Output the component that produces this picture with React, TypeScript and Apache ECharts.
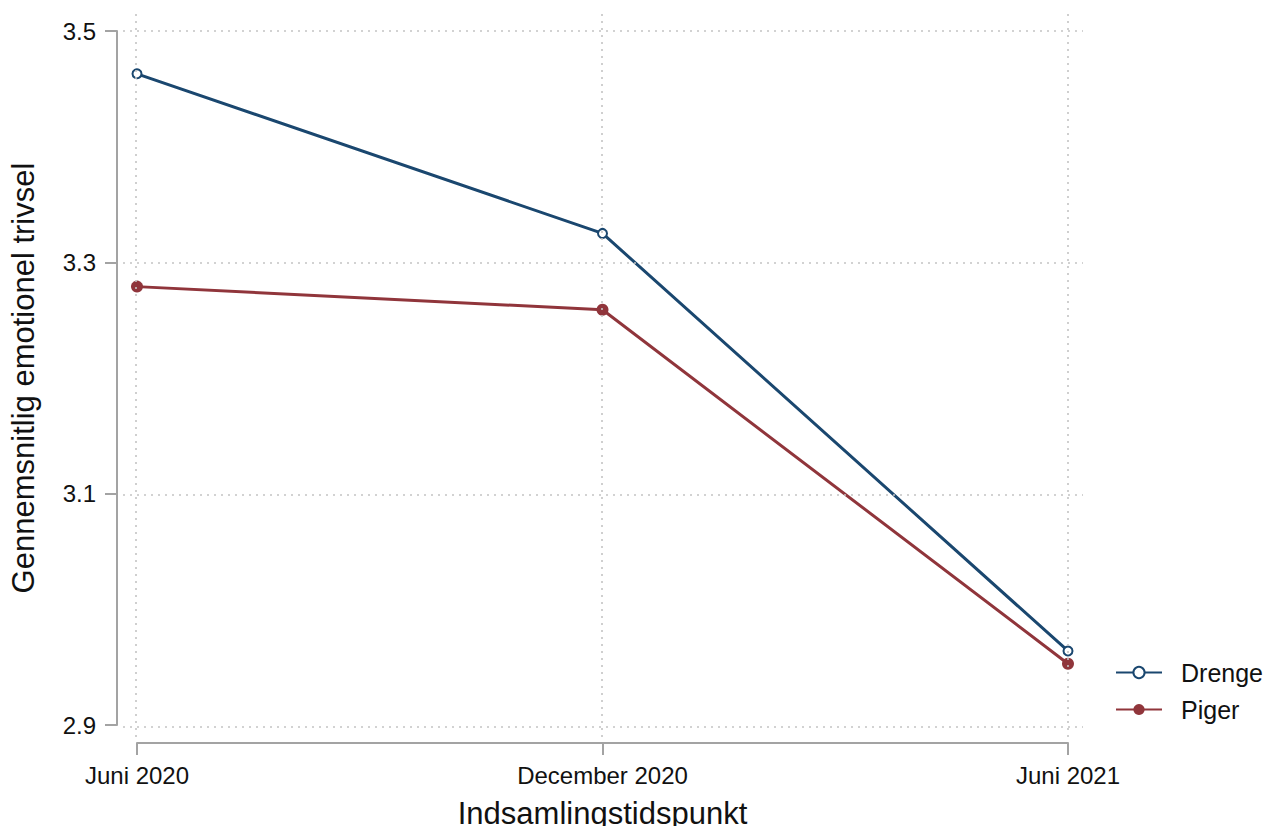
import React, { useEffect, useRef } from "react";
import * as echarts from "echarts";

const categories = ["Juni 2020", "December 2020", "Juni 2021"];
const drenge = [3.463, 3.325, 2.964];
const piger = [3.279, 3.259, 2.953];
const yTicks = [2.9, 3.1, 3.3, 3.5];
const yBase = 2.9;
const yTop = 3.5;
const yStep = 0.2;

export default function App() {
  const ref = useRef<HTMLDivElement>(null);
  useEffect(() => {
    const chart = echarts.init(ref.current!, null, { renderer: "svg" });
    const font = "Liberation Sans";
    const gridLine = {
      type: [2, 5] as any,
      color: "#c4c4c4",
      width: 1.6,
    };
    const axisGray = "#a3a3a3";
    // data region in pixels
    const L = 136, R = 1068, T = 31, B = 727;
    // plot region (gridlines) slightly larger
    const PL = 123, PR = 1083, PT = 12, PB = 737;
    const pxPerY = (B - T) / (yTop - yBase);
    const pxPerX = (R - L) / (categories.length - 1);
    const gridMarks = [
      ...yTicks.map((t) => ({ yAxis: +(t - yBase).toFixed(4) })),
      ...categories.map((_, i) => ({ xAxis: i })),
    ];
    chart.setOption({
      animation: false,
      textStyle: { fontFamily: font },
      grid: [
        { left: L, right: 1271 - R, top: T, bottom: 834 - B },
        { left: PL, right: 1271 - PR, top: PT, bottom: 834 - PB },
      ],
      legend: {
        orient: "vertical",
        left: 1110,
        top: 655,
        itemWidth: 46,
        itemHeight: 14,
        itemGap: 12,
        textStyle: { fontSize: 25, color: "#111", padding: [0, 0, 0, 14], fontFamily: font },
        data: ["Drenge", "Piger"],
      },
      xAxis: [
        {
          type: "category",
          gridIndex: 0,
          data: categories,
          boundaryGap: false,
          offset: 18,
          axisLine: { onZero: false, lineStyle: { color: axisGray, width: 2 } },
          axisTick: { length: 12, lineStyle: { color: axisGray, width: 2 } },
          axisLabel: { fontSize: 24, color: "#111", margin: 20 },
          splitLine: { show: false },
          name: "Indsamlingstidspunkt",
          nameLocation: "middle",
          nameGap: 55,
          nameTextStyle: { fontSize: 31, color: "#111" },
        },
        {
          type: "value",
          gridIndex: 1,
          min: -(L - PL) / pxPerX,
          max: categories.length - 1 + (PR - R) / pxPerX,
          show: false,
          splitLine: { show: false },
        },
      ],
      yAxis: [
        {
          type: "value",
          gridIndex: 0,
          min: 0,
          max: yTop - yBase,
          interval: yStep,
          offset: 20,
          axisLine: { show: true, onZero: false, lineStyle: { color: axisGray, width: 2 } },
          axisTick: { show: true, length: 12, lineStyle: { color: axisGray, width: 2 } },
          axisLabel: {
            fontSize: 24,
            color: "#111",
            margin: 21,
            formatter: (v: number) => (v + yBase).toFixed(1),
          },
          splitLine: { show: false },
          name: "Gennemsnitlig emotionel trivsel",
          nameLocation: "middle",
          nameGap: 78,
          nameTextStyle: { fontSize: 31, color: "#111" },
        },
        {
          type: "value",
          gridIndex: 1,
          min: -(PB - B) / pxPerY,
          max: yTop - yBase + (T - PT) / pxPerY,
          show: false,
          splitLine: { show: false },
        },
      ],
      series: [
        {
          name: "grid",
          type: "line",
          xAxisIndex: 1,
          yAxisIndex: 1,
          data: [],
          silent: true,
          markLine: {
            silent: true,
            symbol: ["none", "none"],
            label: { show: false },
            lineStyle: gridLine,
            emphasis: { disabled: true },
            data: gridMarks,
          },
          z: 0,
        },
        {
          name: "Drenge",
          type: "line",
          xAxisIndex: 0,
          yAxisIndex: 0,
          data: drenge.map((v) => +(v - yBase).toFixed(4)),
          symbol: "emptyCircle",
          symbolSize: 9,
          color: "#1a476f",
          lineStyle: { width: 3, color: "#1a476f" },
          itemStyle: { color: "#1a476f", borderWidth: 2.5, borderColor: "#1a476f" },
          z: 3,
        },
        {
          name: "Piger",
          type: "line",
          xAxisIndex: 0,
          yAxisIndex: 0,
          data: piger.map((v) => +(v - yBase).toFixed(4)),
          symbol: "circle",
          symbolSize: 12,
          color: "#90353b",
          lineStyle: { width: 3, color: "#90353b" },
          itemStyle: { color: "#90353b" },
          z: 2,
        },
      ],
    });
    return () => chart.dispose();
  }, []);
  return <div ref={ref} style={{ width: 1271, height: 834, margin: -8, background: "#fff" }} />;
}
